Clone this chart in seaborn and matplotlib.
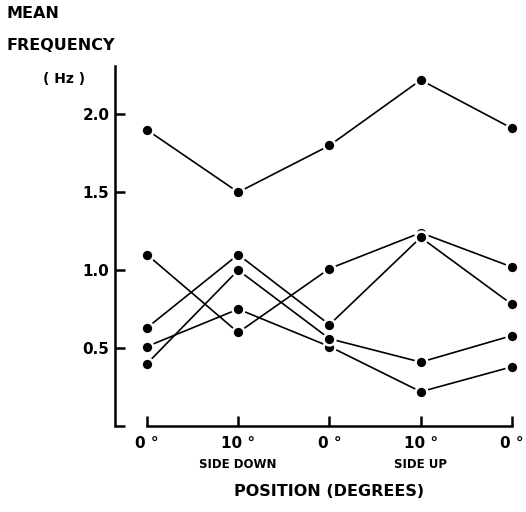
import pandas as pd
import matplotlib.pyplot as plt
import seaborn as sns

# valores (Hz)
posiciones = [0, 1, 2, 3, 4]
etiquetas_x = ["0 °", "10 °", "0 °", "10 °", "0 °"]
serie_1 = [1.90, 1.50, 1.80, 2.22, 1.91]
serie_2 = [1.10, 0.60, 1.01, 1.24, 1.02]
serie_3 = [0.63, 1.10, 0.65, 1.21, 0.78]
serie_4 = [0.51, 0.75, 0.51, 0.22, 0.38]
serie_5 = [0.40, 1.00, 0.56, 0.41, 0.58]
yticks = [0, 0.5, 1.0, 1.5, 2.0]
etiquetas_y = ["", "0.5", "1.0", "1.5", "2.0"]

series = [serie_1, serie_2, serie_3, serie_4, serie_5]
filas = []
for k, s in enumerate(series):
    for p, v in zip(posiciones, s):
        filas.append({"sujeto": k, "pos": p, "freq": v})
df = pd.DataFrame(filas)

sns.set_style("white", {
    "axes.edgecolor": "black", "text.color": "black",
    "xtick.color": "black", "ytick.color": "black",
    "xtick.bottom": True, "ytick.left": True,
})
plt.rcParams["font.family"] = ["DejaVu Sans"]
plt.rcParams["font.weight"] = "bold"

fig = plt.figure(figsize=(5.26, 5.12), dpi=100)
ax = fig.add_axes([115 / 526, 1 - 426 / 512, (512 - 115) / 526, (426 - 66) / 512])

sns.lineplot(
    data=df, x="pos", y="freq", units="sujeto", estimator=None,
    color="black", linewidth=1.2, marker="o", markersize=8.5,
    markeredgecolor="white", markeredgewidth=1.8, clip_on=False, ax=ax,
)

ax.set_xlim(-0.35, 4)
ax.set_ylim(0, 2.31)
for s in ["top", "right"]:
    ax.spines[s].set_visible(False)
ax.spines["left"].set_linewidth(1.8)
ax.spines["bottom"].set_linewidth(1.8)
ax.spines["bottom"].set_bounds(0, 4)

ax.set_xticks(posiciones)
ax.set_xticklabels(etiquetas_x, fontsize=11, fontweight="bold")
ax.set_yticks(yticks)
ax.set_yticklabels(etiquetas_y, fontsize=11, fontweight="bold")
ax.tick_params(axis="both", direction="in", length=7, width=1.8,
               left=True, bottom=True)
ax.tick_params(axis="x", pad=7)
ax.tick_params(axis="y", pad=4)
ax.set_xlabel("")
ax.set_ylabel("")

ax.text(1, -0.25, "SIDE DOWN", ha="center", va="center", fontsize=8.5)
ax.text(3, -0.25, "SIDE UP", ha="center", va="center", fontsize=8.5)
fig.text(329 / 526, 1 - 492 / 512, "POSITION (DEGREES)", ha="center", va="center", fontsize=11.5)

fig.text(7 / 526, 1 - 13 / 512, "MEAN", ha="left", va="center", fontsize=11.5)
fig.text(7 / 526, 1 - 45 / 512, "FREQUENCY", ha="left", va="center", fontsize=11.5)
fig.text(64 / 526, 1 - 79 / 512, "( Hz )", ha="center", va="center", fontsize=10)

fig.savefig("out.png", dpi=100)
plt.close()
